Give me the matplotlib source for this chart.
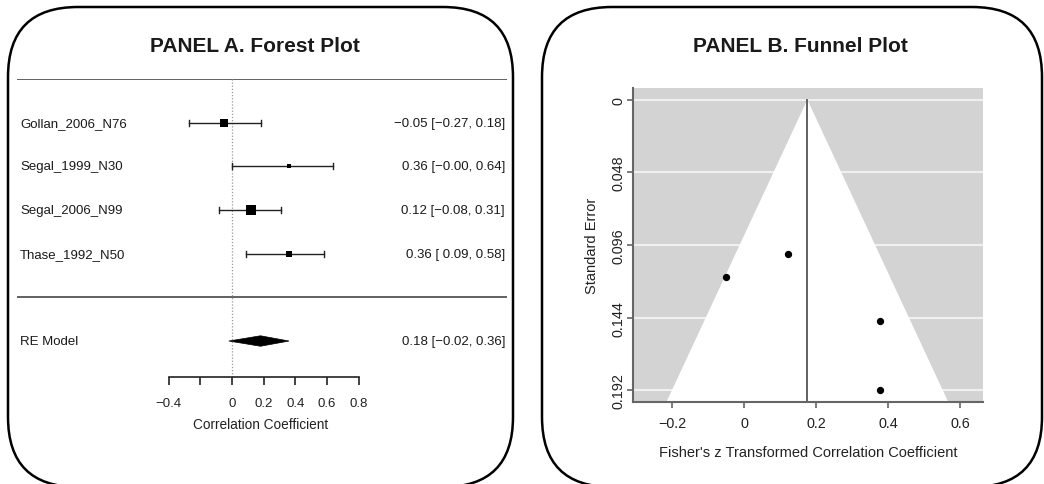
import matplotlib
matplotlib.use("Agg")
import matplotlib.pyplot as plt
import matplotlib.transforms as mtransforms
from matplotlib.patches import FancyBboxPatch, Polygon

plt.rcParams['font.family'] = ['Liberation Sans', 'DejaVu Sans']

# ---------------- data ----------------
studies = ["Gollan_2006_N76", "Segal_1999_N30", "Segal_2006_N99", "Thase_1992_N50"]
r_est = [-0.05, 0.36, 0.12, 0.36]
ci_low = [-0.27, -0.00, -0.08, 0.09]
ci_high = [0.18, 0.64, 0.31, 0.58]
re_label = "RE Model"
re_est = 0.18
re_low = -0.02
re_high = 0.36
forest_ticks = [-0.4, -0.2, 0, 0.2, 0.4, 0.6, 0.8]
forest_ticklabels = ["\u22120.4", "", "0", "0.2", "0.4", "0.6", "0.8"]

# funnel (Fisher z scale)
funnel_z = [-0.05, 0.377, 0.121, 0.377]
funnel_se = [0.117, 0.192, 0.102, 0.146]
funnel_center = 0.176
funnel_yticks = [0, 0.048, 0.096, 0.144, 0.192]
funnel_yticklabels = ["0", "0.048", "0.096", "0.144", "0.192"]
funnel_xticks = [-0.2, 0, 0.2, 0.4, 0.6]
funnel_xticklabels = ["\u22120.2", "0", "0.2", "0.4", "0.6"]

# style: study marker sizes (points), proportional to weight
marker_pt = [5.8, 2.2, 6.5, 4.3]

W, H = 1044, 485
fig = plt.figure(figsize=(W / 100, H / 100), dpi=100)

def fx(px):
    return px / W

def fy(py):
    return 1 - py / H

# background axes in pixel units for frames & titles
bg = fig.add_axes([0, 0, 1, 1])
bg.set_xlim(0, W)
bg.set_ylim(0, H)
bg.axis('off')
for (x0, x1) in [(8, 513), (542, 1042)]:
    y_top, y_bot = 8, 488
    bg.add_patch(FancyBboxPatch((x0, H - y_bot), x1 - x0, y_bot - y_top,
                                boxstyle="round,pad=0,rounding_size=70",
                                fc='white', ec='black', lw=1.8, zorder=0))
bg.text(255, H - 46, "PANEL A. Forest Plot", ha='center', va='center',
        fontsize=15, fontweight='bold', color='#1a1a1a')
bg.text(800, H - 46, "PANEL B. Funnel Plot", ha='center', va='center',
        fontsize=15, fontweight='bold', color='#1a1a1a')

# ---------------- forest plot ----------------
ax_l, ax_r = 17, 507
row_top, row_bot = 5.0, -2.6
row_px = 43.67
ax_top_px = 80
ax_bot_px = ax_top_px + (row_top - row_bot) * row_px
xs = 158.5
ax = fig.add_axes([fx(ax_l), fy(ax_bot_px), (ax_r - ax_l) / W, (ax_bot_px - ax_top_px) / H])
ax.set_xlim((ax_l - 232) / xs, (ax_r - 232) / xs)
ax.set_ylim(row_bot, row_top)
ax.patch.set_alpha(0)
for s in ['top', 'right', 'left']:
    ax.spines[s].set_visible(False)
axis_row = -1.83
ax.spines['bottom'].set_position(('data', axis_row))
ax.spines['bottom'].set_bounds(forest_ticks[0], forest_ticks[-1])
ax.spines['bottom'].set_linewidth(1.2)
ax.spines['bottom'].set_color('#222222')
ax.set_xticks(forest_ticks)
ax.set_xticklabels(forest_ticklabels)
ax.tick_params(axis='x', direction='out', length=6, width=1.2, color='#222222',
               labelsize=9.5, labelcolor='#222222', pad=8)
ax.set_yticks([])
ax.text(0.18, axis_row - 1.07, "Correlation Coefficient", ha='center', va='center',
        fontsize=9.8, color='#222222')

k = len(studies)
rows = list(range(k, 0, -1))
ax.axhline(k + 1, color='#555555', lw=1.3)
ax.axhline(0, color='#555555', lw=1.3)
ax.vlines(0, axis_row, k + 1, colors='#999999', linestyles=(0, (1, 1.5)), lw=0.9)

trans = mtransforms.blended_transform_factory(ax.transAxes, ax.transData)
for i, row in enumerate(rows):
    ax.plot([ci_low[i], ci_high[i]], [row, row], color='#222222', lw=1.0)
    for e in (ci_low[i], ci_high[i]):
        ax.plot([e, e], [row - 0.07, row + 0.07], color='#222222', lw=1.0)
    ax.plot(r_est[i], row, marker='s', color='black', ms=marker_pt[i], mew=0)
    ax.text(3 / (ax_r - ax_l), row, studies[i], ha='left', va='center',
            fontsize=9.5, color='#1a1a1a', transform=trans)
    lo = "\u22120.00" if ci_low[i] == 0 else f"{ci_low[i]:5.2f}".replace('-', '\u2212')
    lab = f"{r_est[i]:.2f} [{lo}, {ci_high[i]:.2f}]".replace('-', '\u2212')
    ax.text(0.996, row, lab, ha='right', va='center', fontsize=9.5,
            color='#1a1a1a', transform=trans)

re_row = -1
diamond = Polygon([[re_low, re_row], [re_est, re_row + 0.12], [re_high, re_row],
                   [re_est, re_row - 0.12]], closed=True, fc='black', ec='black', lw=0.5)
ax.add_patch(diamond)
ax.text(3 / (ax_r - ax_l), re_row, re_label, ha='left', va='center',
        fontsize=9.5, color='#1a1a1a', transform=trans)
ax.text(0.996, re_row, f"{re_est:.2f} [{re_low:.2f}, {re_high:.2f}]".replace('-', '\u2212'),
        ha='right', va='center', fontsize=9.5, color='#1a1a1a', transform=trans)

# ---------------- funnel plot ----------------
fl, fr, ft, fb = 633, 983, 89, 403
axf = fig.add_axes([fx(fl), fy(fb), (fr - fl) / W, (fb - ft) / H])
ymax = funnel_yticks[-1]
axf.set_ylim(ymax * 1.04, -ymax * 0.04)
x_lo = -0.2 - (672 - fl) / 360.0
x_hi = -0.2 + (fr - 672) / 360.0
axf.set_xlim(x_lo, x_hi)
axf.set_facecolor('#d3d3d3')
axf.set_axisbelow(True)
axf.set_yticks(funnel_yticks)
axf.set_yticklabels(funnel_yticklabels, rotation=90, va='center')
axf.set_xticks(funnel_xticks)
axf.set_xticklabels(funnel_xticklabels)
axf.yaxis.grid(True, color='#f0f0f0', lw=1.5)
se_bottom = ymax * 1.04
funnel = Polygon([[funnel_center - 1.96 * se_bottom, se_bottom], [funnel_center, 0],
                  [funnel_center + 1.96 * se_bottom, se_bottom]], closed=True,
                 fc='white', ec='none', zorder=1)
axf.add_patch(funnel)
axf.plot([funnel_center, funnel_center], [0, se_bottom], color='#555555', lw=1.3, zorder=2)
axf.scatter(funnel_z, funnel_se, s=18, color='black', zorder=3)
for s in ['top', 'right']:
    axf.spines[s].set_visible(False)
for s in ['left', 'bottom']:
    axf.spines[s].set_color('#666666')
    axf.spines[s].set_linewidth(1.5)
axf.tick_params(direction='out', length=4, width=1.2, color='#666666',
                labelsize=10.4, labelcolor='#222222')
axf.tick_params(axis='y', pad=1.5)
axf.tick_params(axis='x', pad=6)
axf.set_xlabel("Fisher's z Transformed Correlation Coefficient", fontsize=10.5,
               color='#222222', labelpad=11)
axf.set_ylabel("Standard Error", fontsize=10.5, color='#222222', labelpad=9)

fig.savefig("out.png", dpi=100)
